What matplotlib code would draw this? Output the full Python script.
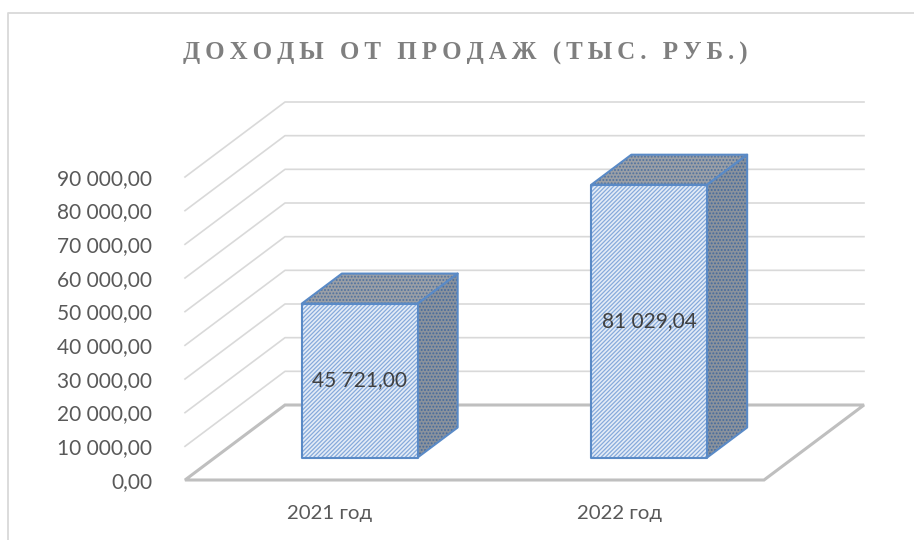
import matplotlib
matplotlib.use('Agg')
import matplotlib.pyplot as plt
from matplotlib.lines import Line2D
from matplotlib.patches import Polygon

categories = ['2021 год', '2022 год']
values = [45721.00, 81029.04]
value_labels = ['45 721,00', '81 029,04']
ticks = [0, 10000, 20000, 30000, 40000, 50000, 60000, 70000, 80000, 90000]
tick_labels = ['0,00', '10 000,00', '20 000,00', '30 000,00', '40 000,00',
               '50 000,00', '60 000,00', '70 000,00', '80 000,00', '90 000,00']
title = 'ДОХОДЫ ОТ ПРОДАЖ (ТЫС. РУБ.)'

W, H = 914, 540
plt.rcParams['hatch.linewidth'] = 0.9

fig = plt.figure(figsize=(W / 100, H / 100), dpi=100)
ax = fig.add_axes([185 / W, (H - 480) / H, (764 - 185) / W, (480 - 177) / H])
ax.set_xlim(0, 2)
ax.set_ylim(0, 90000)
ax.axis('off')

# oblique depth, one unit of depth in data units
DX = 100 / 289.5
DY = 75 / 303 * 90000


def pr(x, y, d=0.0):
    return (x + d * DX, y + d * DY)


# chart frame, only left and top show
fig.add_artist(Line2D([8 / W, 8 / W, 1], [0, 1 - 13 / H, 1 - 13 / H], color='#d9d9d9', lw=1.3))

# walls
for t in ticks[1:]:
    ax.plot(*zip(pr(0, t), pr(0, t, 1), pr(2, t, 1)), color='#d9d9d9', lw=1.2, clip_on=False, zorder=1)

# floor
ax.add_patch(Polygon([pr(0, 0), pr(0, 0, 1), pr(2, 0, 1), pr(2, 0)], closed=True, fill=False,
                     edgecolor='#bfbfbf', lw=2.2, clip_on=False, zorder=2, joinstyle='miter'))


def face(pts, fc, hatch, hatch_color, z):
    ax.add_patch(Polygon(pts, closed=True, facecolor=fc, edgecolor=hatch_color, hatch=hatch, lw=0,
                         clip_on=False, zorder=z))
    ax.add_patch(Polygon(pts, closed=True, fill=False, edgecolor='#5a8ac6', lw=1.5,
                         clip_on=False, zorder=z + 0.1, joinstyle='round'))


bar_w = 0.4
d0, d1 = 0.3, 0.7
for i, v in enumerate(values):
    c = i + 0.5
    x0, x1 = c - bar_w / 2, c + bar_w / 2
    face([pr(x0, 0, d0), pr(x1, 0, d0), pr(x1, v, d0), pr(x0, v, d0)], '#e4ecf7', '////////', '#86aadb', 5)
    face([pr(x1, 0, d0), pr(x1, 0, d1), pr(x1, v, d1), pr(x1, v, d0)], '#8a929c', '.....', '#456a9c', 4)
    face([pr(x0, v, d0), pr(x1, v, d0), pr(x1, v, d1), pr(x0, v, d1)], '#9a9fa6', '.....', '#4f719e', 4)
    ax.text(*pr(c, v / 2, d0), value_labels[i], ha='center', va='center', family='Lato',
            fontsize=15, color='#404040', zorder=8)
    ax.text(c, -9900, categories[i], ha='center', va='center', family='Lato',
            fontsize=14.7, color='#595959')

for t, lab in zip(ticks, tick_labels):
    ax.text(-33 / 289.5, t - 500, lab, ha='right', va='center', family='Lato', fontsize=15, color='#595959')

fig.text(465 / W, 1 - 53 / H, '\u2009'.join(title), ha='center', va='center', family='Liberation Serif',
         fontweight='bold', fontsize=18, color='#7f7f7f')

fig.savefig('out.png', dpi=100)
